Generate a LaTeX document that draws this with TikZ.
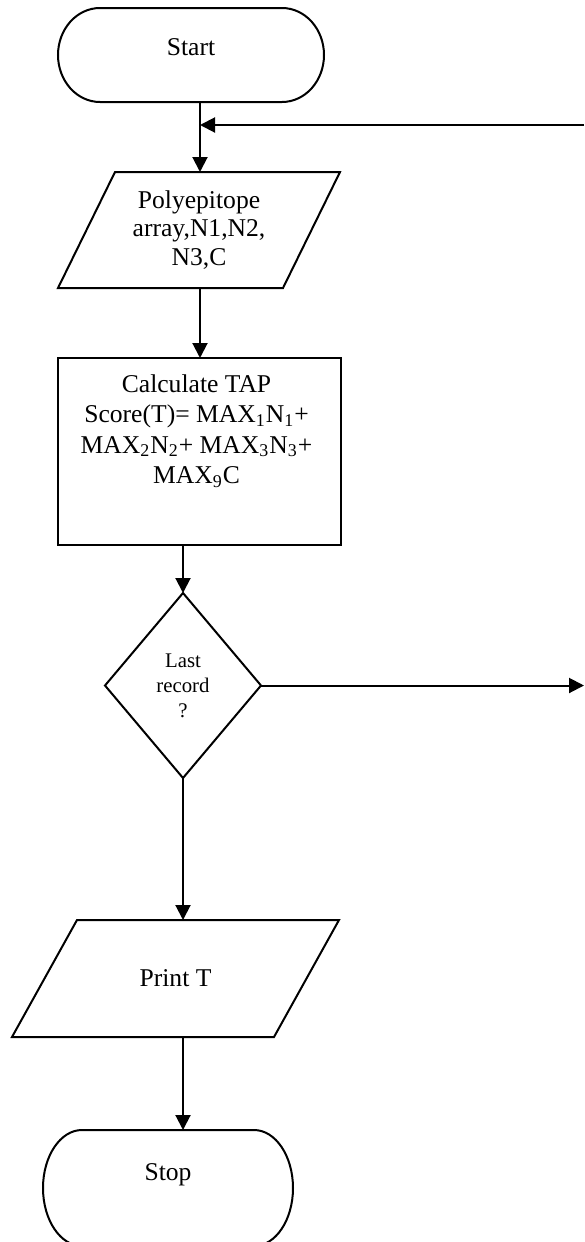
\documentclass[tikz,border=0pt]{standalone}
\usepackage{fontspec}
\setmainfont{Liberation Serif}
\usetikzlibrary{shapes.geometric,arrows.meta}
\begin{document}
\begin{tikzpicture}[x=0.5pt,y=-0.5pt,
  ln/.style={line width=1pt},
  arr/.style={line width=1pt,-{Triangle[length=7.5pt,width=7.5pt]}},
  txt/.style={font=\fontsize{12.8}{14.4}\selectfont,align=center},
  term/.style={txt,inner sep=0pt,outer sep=0pt},
  iobox/.style={txt,inner sep=0pt,outer sep=0pt},
  procbox/.style={draw,line width=1pt,minimum width=141.5pt,minimum height=93.5pt,inner sep=0pt,outer sep=0pt},
  decbox/.style={draw,line width=1pt,diamond,minimum width=78pt,minimum height=92.5pt,inner sep=0pt,outer sep=0pt,font=\fontsize{10.4}{12.5}\selectfont,align=center}]
\useasboundingbox (0,0) rectangle (584,1242);
% terminals
\node[term,minimum width=133pt,minimum height=47pt,text depth=8pt] (start) at (191,55) {Start};
\draw[ln] ([xshift=21pt]start.north west) -- ([xshift=-21pt]start.north east)
  arc[start angle=90,end angle=-90,x radius=21pt,y radius=23.5pt]
  -- ([xshift=21pt]start.south west)
  arc[start angle=270,end angle=90,x radius=21pt,y radius=23.5pt] -- cycle;
\node[term,minimum width=125pt,minimum height=58pt,text height=9pt,text depth=16.6pt] (stop) at (168,1188) {Stop};
\draw[ln] ([xshift=19.5pt]stop.north west) -- ([xshift=-19.5pt]stop.north east)
  arc[start angle=90,end angle=-90,x radius=19.5pt,y radius=29pt]
  -- ([xshift=19.5pt]stop.south west)
  arc[start angle=270,end angle=90,x radius=19.5pt,y radius=29pt] -- cycle;
% input / output
\node[iobox,minimum width=112.5pt,minimum height=58pt] (poly) at (199,230) {Polyepitope\\array,N1,N2,\\N3,C};
\draw[ln] ([xshift=14.25pt]poly.north west) -- ([xshift=14.25pt]poly.north east)
  -- ([xshift=-14.25pt]poly.south east) -- ([xshift=-14.25pt]poly.south west) -- cycle;
\node[iobox,minimum width=131pt,minimum height=58.5pt] (print) at (175.5,978.5) {Print T};
\draw[ln] ([xshift=16.25pt]print.north west) -- ([xshift=16.25pt]print.north east)
  -- ([xshift=-16.25pt]print.south east) -- ([xshift=-16.25pt]print.south west) -- cycle;
% process and decision
\node[procbox] (calc) at (199.5,451.5) {};
\node[txt,font=\fontsize{12.8}{15.2}\selectfont] (calctxt) at (196.5,431) {Calculate TAP\\Score(T)= MAX\textsubscript{1}N\textsubscript{1}+\\MAX\textsubscript{2}N\textsubscript{2}+ MAX\textsubscript{3}N\textsubscript{3}+\\MAX\textsubscript{9}C};
\node[decbox] (dec) at (183,685.5) {Last\\record\\?};
% connectors
\coordinate (j1) at (200,125);
\coordinate (loopin) at (584,125);
\coordinate (loopout) at (584,685.5);
\draw[arr] (start.south -| j1) -- (poly.north -| j1);
\draw[arr] (loopin) -- (j1);
\draw[arr] (poly.south -| j1) -- (calc.north -| j1);
\draw[arr] (calc.south -| dec) -- (dec.north);
\draw[arr] (dec.east) -- (loopout);
\draw[arr] (dec.south) -- (print.north -| dec);
\draw[arr] (print.south -| dec) -- (stop.north -| dec);
\end{tikzpicture}
\end{document}
